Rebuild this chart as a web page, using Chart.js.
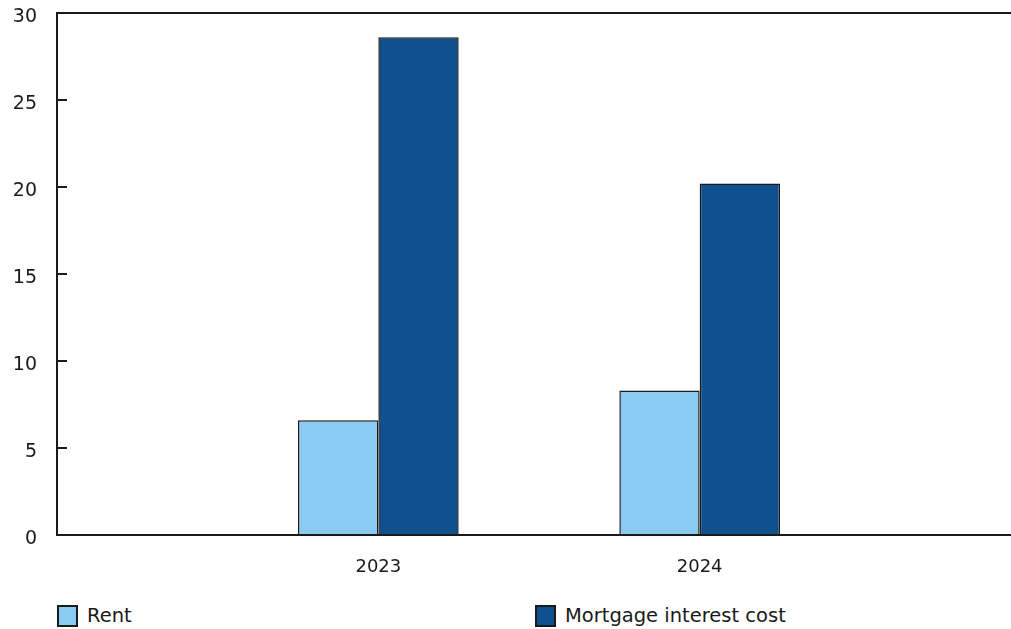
<!DOCTYPE html>
<html>
<head>
<meta charset="utf-8">
<script src="https://cdn.jsdelivr.net/npm/chart.js@4/dist/chart.umd.min.js"></script>
<style>
  html, body { margin: 0; padding: 0; background: #fff; overflow: hidden; width: 1011px; height: 629px; }
  #wrap { position: absolute; left: 0; top: 0; width: 1030px; height: 580px; }
  #legend { position: absolute; left: 0; top: 604px; width: 1011px; height: 24px; font-family: "DejaVu Sans", Verdana, sans-serif; font-size: 19.5px; color: #1a1a1a; }
  .item { position: absolute; top: 0; display: flex; align-items: center; }
  .box { width: 17px; height: 18px; border: 2px solid #1a1a1a; margin-right: 9px; }
</style>
</head>
<body>
<div id="wrap"><canvas id="c" width="1030" height="580"></canvas></div>
<div id="legend"></div>
<script>
const categories = ['', '2023', '2024', ''];
const rentValues = [null, 6.6, 8.3, null];
const mortgageValues = [null, 28.6, 20.2, null];
const seriesNames = ['Rent', 'Mortgage interest cost'];
const yTicks = [0, 5, 10, 15, 20, 25, 30];

const FONT = '"DejaVu Sans", Verdana, sans-serif';

const innerTicks = {
  id: 'innerTicks',
  afterDraw(chart) {
    const y = chart.scales.y;
    const ctx = chart.ctx;
    const left = chart.chartArea.left;
    ctx.save();
    ctx.strokeStyle = '#1a1a1a';
    ctx.lineWidth = 2;
    y.ticks.forEach(t => {
      if (t.value === 0 || t.value === 30) return;
      const py = Math.round(y.getPixelForValue(t.value));
      ctx.beginPath();
      ctx.moveTo(left, py);
      ctx.lineTo(left + 10, py);
      ctx.stroke();
    });
    ctx.restore();
  }
};

const chart = new Chart(document.getElementById('c'), {
  type: 'bar',
  data: {
    labels: categories,
    datasets: [
      { label: seriesNames[0], data: rentValues, backgroundColor: '#8BCBF3', borderColor: '#1a1a1a', borderWidth: 1.5 },
      { label: seriesNames[1], data: mortgageValues, backgroundColor: '#11508E', borderColor: '#1a1a1a', borderWidth: 1.5 }
    ]
  },
  options: {
    responsive: false,
    animation: false,
    events: [],
    layout: { padding: { left: 14, right: 9, top: 13, bottom: 0 } },
    datasets: { bar: { categoryPercentage: 0.5, barPercentage: 1.0 } },
    plugins: { legend: { display: false }, tooltip: { enabled: false } },
    scales: {
      x: {
        offset: false,
        afterFit(scale) { scale.height = 45; scale.paddingLeft = 0; scale.paddingRight = 0; },
        grid: { display: false, drawTicks: false },
        border: { display: true, color: '#1a1a1a', width: 2 },
        ticks: { color: '#1a1a1a', font: { family: FONT, size: 18 }, padding: 22, autoSkip: false, maxRotation: 0 }
      },
      y: {
        min: 0, max: 30,
        afterFit(scale) { scale.width = 43; scale.paddingTop = 0; scale.paddingBottom = 0; },
        afterBuildTicks(scale) { scale.ticks = yTicks.map(v => ({ value: v })); },
        grid: {
          drawTicks: false,
          color: c => (c.tick && c.tick.value === 30) ? '#1a1a1a' : 'rgba(0,0,0,0)',
          lineWidth: 2
        },
        border: { display: true, color: '#1a1a1a', width: 2 },
        ticks: { color: '#1a1a1a', font: { family: FONT, size: 19 }, padding: 20, labelOffset: 4 }
      }
    }
  },
  plugins: [innerTicks]
});

const legend = document.getElementById('legend');
const positions = [57, 535];
chart.data.datasets.forEach((ds, i) => {
  const it = document.createElement('div');
  it.className = 'item';
  it.style.left = positions[i] + 'px';
  const b = document.createElement('div');
  b.className = 'box';
  b.style.background = ds.backgroundColor;
  const s = document.createElement('span');
  s.textContent = ds.label;
  it.appendChild(b); it.appendChild(s);
  legend.appendChild(it);
});
</script>
</body>
</html>
